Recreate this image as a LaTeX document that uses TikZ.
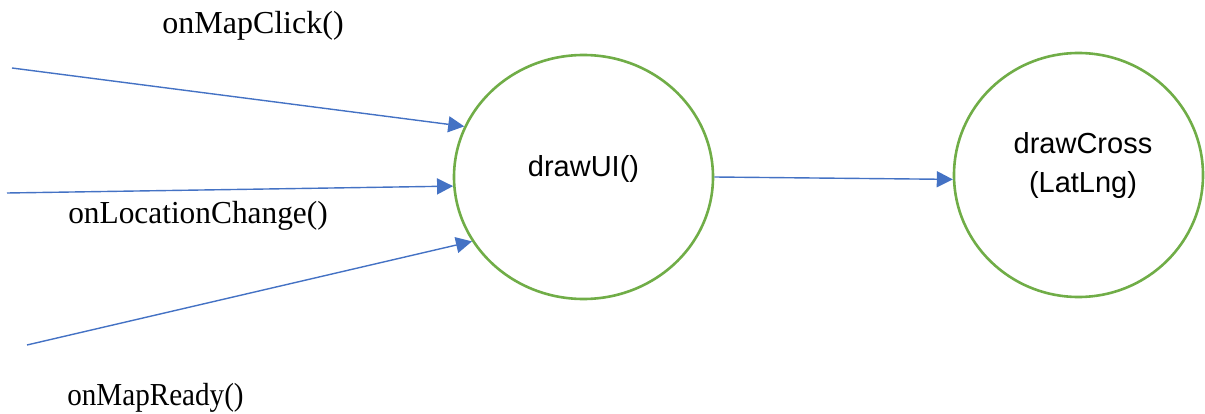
\documentclass[tikz,border=0pt]{standalone}
\usepackage{fontspec}
\setmainfont{Liberation Serif}
\newfontfamily\arialf{Liberation Sans}
\usetikzlibrary{arrows.meta,shapes.geometric}
\definecolor{ogreen}{RGB}{112,173,71}
\definecolor{oblue}{RGB}{68,114,196}
\begin{document}
\begin{tikzpicture}[x=1pt,y=-1pt,
  bubble/.style={ellipse,draw=ogreen,line width=2.6pt,fill=white,inner sep=0pt},
  btext/.style={font=\arialf\fontsize{29}{39}\selectfont,align=center,inner sep=0pt},
  conn/.style={draw=oblue,line width=1.4pt,-{Triangle[length=16pt,width=16pt]}},
  lbl/.style={font=\fontsize{32}{36}\selectfont,inner sep=0pt}]
\useasboundingbox (0,0) rectangle (1205,414);
\node[bubble,minimum width=259pt,minimum height=244pt] (u) at (583.5,177) {};
\node[bubble,minimum width=249pt,minimum height=244pt] (c) at (1078.5,175) {};
\node[btext] (ut) at (583.5,169) {drawUI()};
\node[btext] (ct) at (1083,166) {drawCross\\(LatLng)};
\coordinate (s1) at (12,68);
\coordinate (s2) at (7,193);
\coordinate (s3) at (27,345);
\draw[conn] (s1) -- (u.157.5);
\draw[conn] (s2) -- (u.184.2);
\draw[conn] (s3) -- (u.210.5);
\draw[conn] (u.east) -- (c.182.4);
\node[lbl] (l1) at (253,26) {onMapClick()};
\node[lbl] (l2) at (198,216) {\scalebox{0.98}[1]{onLocationChange()}};
\node[lbl] (l3) at (155.5,398) {\scalebox{0.91}[1]{onMapReady()}};
\end{tikzpicture}
\end{document}
